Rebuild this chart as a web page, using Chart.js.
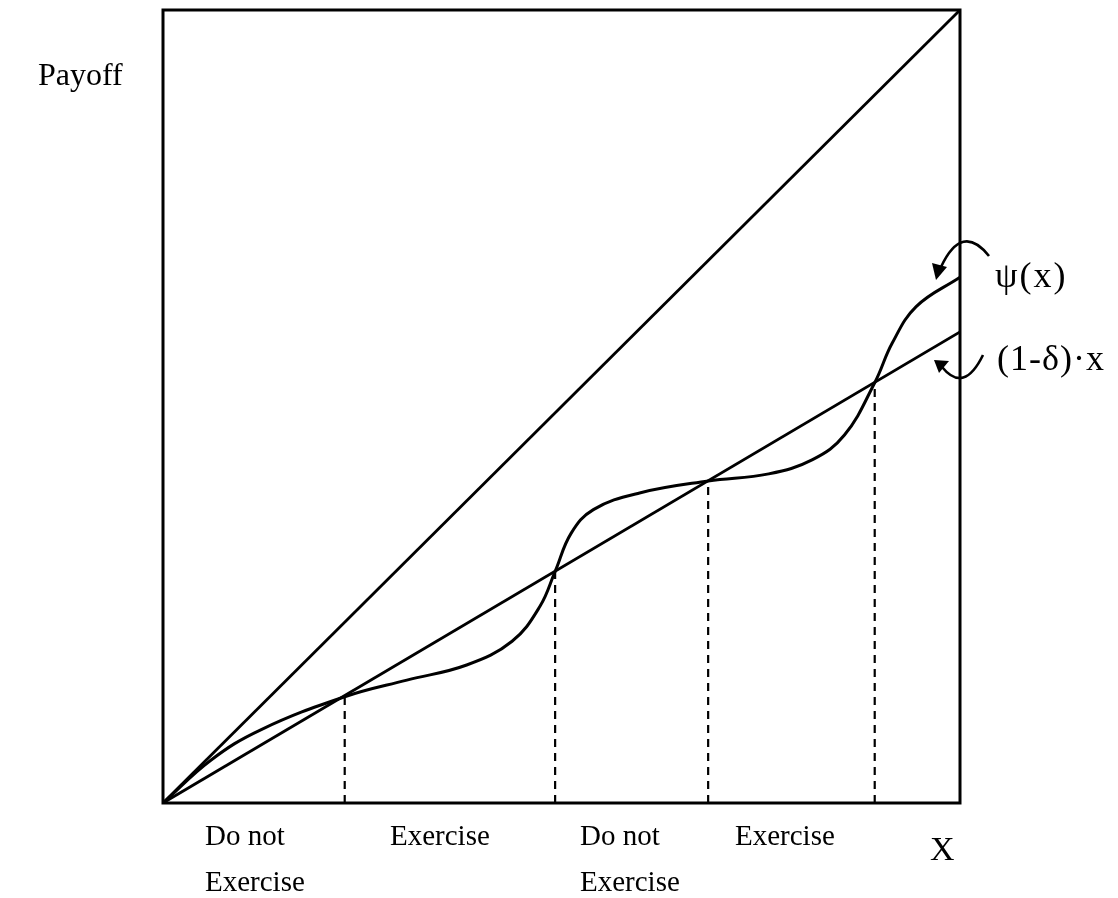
<!DOCTYPE html>
<html>
<head>
<meta charset="utf-8">
<script src="https://cdn.jsdelivr.net/npm/chart.js@4"></script>
<style>
  body { margin: 0; background: #fff; }
  canvas { display: block; }
</style>
</head>
<body>
<canvas id="payoffChart" width="1118" height="898"></canvas>
<script>
// ψ(x) curve (x, payoff on a 0-100 scale)
const psiX = [0, 6.0, 12.2, 22.8, 30.6, 38.1, 43.8, 47.3, 49.2, 51.2, 54.0, 59.8, 68.4, 76.0, 81.5, 85.5, 89.3, 91.5, 94.5, 100];
const psiY = [0, 5.4, 9.2, 13.4, 15.5, 17.4, 20.4, 24.8, 29.2, 34.0, 37.0, 39.1, 40.6, 41.5, 43.3, 46.4, 53.0, 58.0, 62.6, 66.3];

// 45-degree line and (1-δ)·x
const diagX = [0, 100];
const diagY = [0, 100];
const lineX = [0, 100];
const lineY = [0, 59.4];

// where ψ(x) crosses (1-δ)·x
const crossX = [22.8, 49.2, 68.4, 89.3];
const crossY = [13.5, 29.2, 40.6, 53.0];

const regionLabels = [['Do not', 'Exercise'], ['Exercise'], ['Do not', 'Exercise'], ['Exercise']];

const toPts = (xs, ys) => xs.map((x, i) => ({ x, y: ys[i] }));

const solid = { borderColor: '#000', pointRadius: 0, fill: false };

const datasets = [
    { ...solid, data: toPts(diagX, diagY), borderWidth: 2.8 },
    { ...solid, data: toPts(lineX, lineY), borderWidth: 2.8 },
    { ...solid, data: toPts(psiX, psiY), borderWidth: 3, tension: 0.4 },
    ...crossX.map((x, i) => ({
        ...solid,
        data: [{ x, y: 0 }, { x, y: crossY[i] }],
        borderWidth: 2.2,
        borderDash: [8, 6]
    }))
];

// frame, curved arrows and all the text
const decorPlugin = {
    id: 'decor',
    afterDraw(chart) {
        const { ctx, chartArea: a } = chart;
        ctx.save();
        ctx.strokeStyle = '#000';
        ctx.fillStyle = '#000';
        ctx.lineWidth = 3;
        ctx.strokeRect(a.left, a.top, a.right - a.left, a.bottom - a.top);

        // arrow into ψ(x)
        ctx.lineWidth = 2.6;
        ctx.beginPath();
        ctx.moveTo(989, 256);
        ctx.quadraticCurveTo(962, 222, 941, 267);
        ctx.stroke();
        ctx.beginPath();
        ctx.moveTo(936, 280);
        ctx.lineTo(932, 263);
        ctx.lineTo(947, 267);
        ctx.closePath();
        ctx.fill();

        // arrow into (1-δ)·x
        ctx.beginPath();
        ctx.moveTo(983, 355);
        ctx.quadraticCurveTo(964, 394, 942, 367);
        ctx.stroke();
        ctx.beginPath();
        ctx.moveTo(934, 360);
        ctx.lineTo(949, 361);
        ctx.lineTo(939, 373);
        ctx.closePath();
        ctx.fill();

        ctx.textBaseline = 'alphabetic';
        ctx.textAlign = 'left';
        ctx.font = '32px "Liberation Serif", serif';
        ctx.fillText('Payoff', 38, 85);
        ctx.font = '36px "Liberation Serif", serif';
        ctx.letterSpacing = '2px';
        ctx.fillText('ψ(x)', 995, 287);
        ctx.letterSpacing = '1px';
        ctx.fillText('(1-δ)·x', 997, 370);
        ctx.letterSpacing = '0px';

        ctx.font = '29px "Liberation Serif", serif';
        const labelLeft = [205, 390, 580, 735];
        regionLabels.forEach((lines, i) => {
            lines.forEach((t, j) => ctx.fillText(t, labelLeft[i], 845 + j * 46));
        });
        ctx.font = '34px "Liberation Serif", serif';
        ctx.fillText('X', 930, 860);
        ctx.restore();
    }
};

new Chart(document.getElementById('payoffChart'), {
    type: 'line',
    data: { datasets },
    options: {
        responsive: false,
        animation: false,
        devicePixelRatio: 1,
        layout: { padding: { left: 163, right: 158, top: 10, bottom: 95 } },
        scales: {
            x: { type: 'linear', min: 0, max: 100, display: false },
            y: { type: 'linear', min: 0, max: 100, display: false }
        },
        plugins: { legend: { display: false }, tooltip: { enabled: false } }
    },
    plugins: [decorPlugin]
});
</script>
</body>
</html>
